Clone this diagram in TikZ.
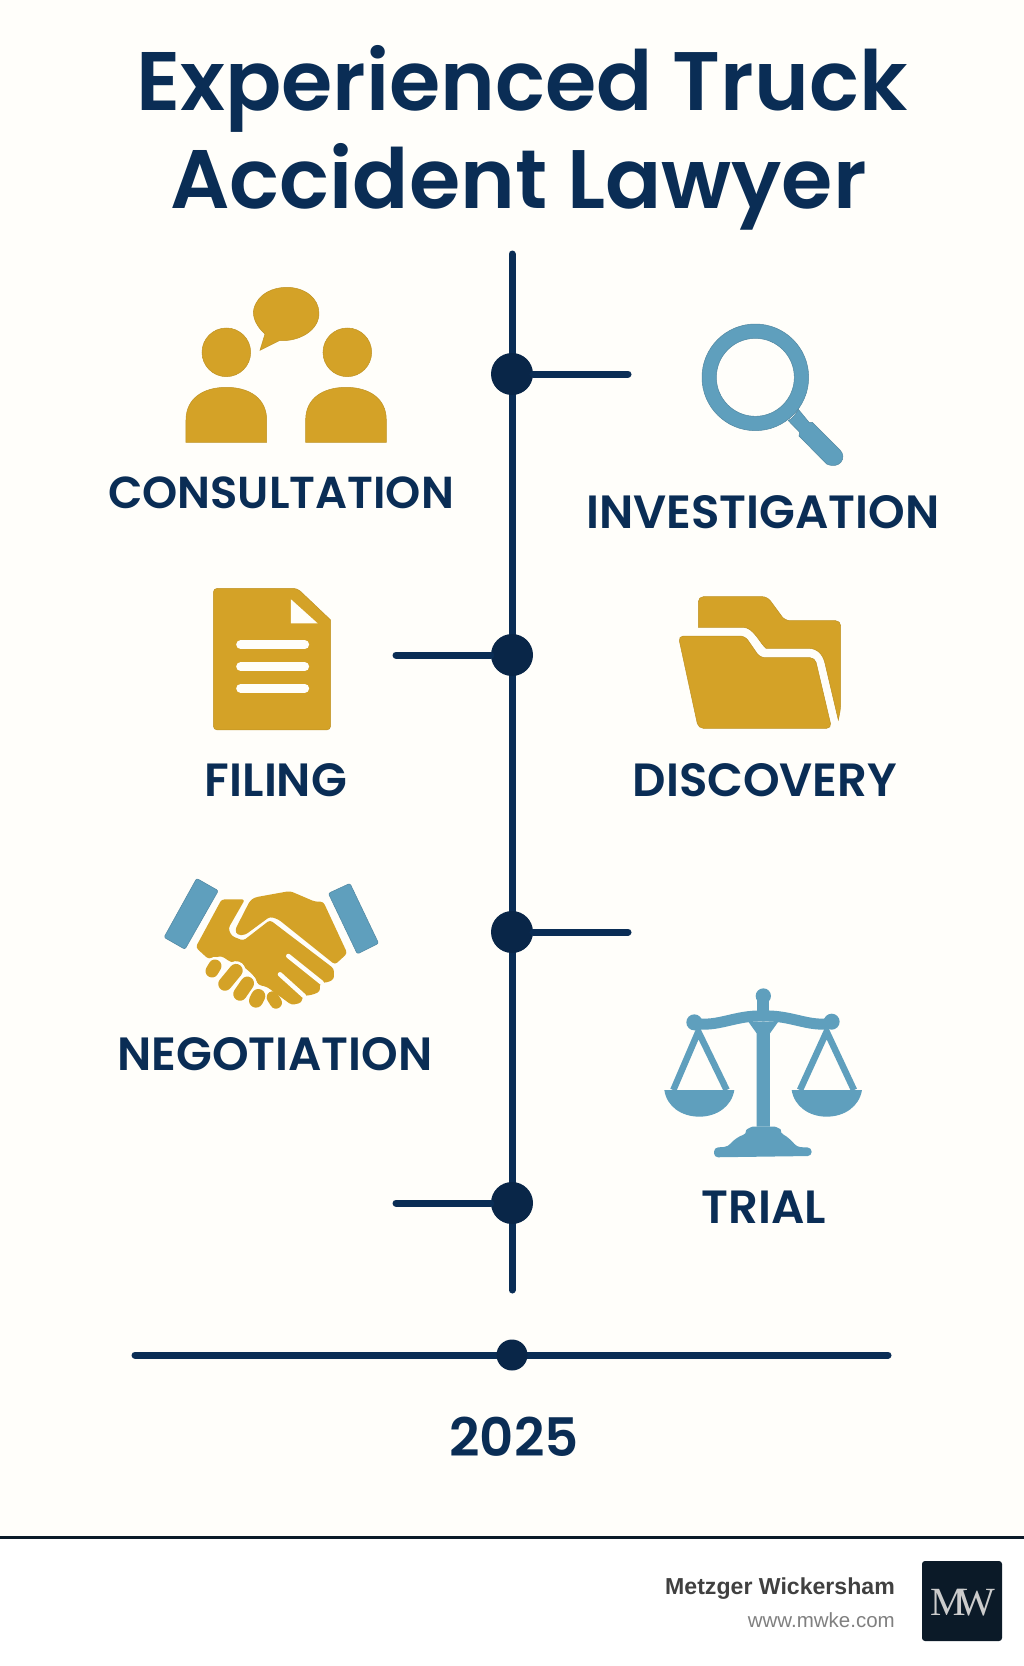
\documentclass[tikz,border=0pt]{standalone}
\usepackage{fontspec}
\setmainfont{Liberation Sans}
\newfontfamily\headfont{Poppins}[UprightFont=* SemiBold]
\newfontfamily\logofont{Liberation Serif}
\definecolor{lawnavy}{RGB}{10,45,85}
\definecolor{lawdot}{RGB}{9,38,72}
\definecolor{lawgold}{RGB}{212,162,39}
\definecolor{lawblue}{RGB}{95,159,189}
\definecolor{lawpaper}{RGB}{255,254,250}
\definecolor{lawlogo}{RGB}{11,26,40}
\usetikzlibrary{calc}
\usetikzlibrary{positioning}
\tikzset{
  stem/.style={draw=lawnavy,line width=7pt,line cap=round},
  stopdot/.style={circle,fill=lawdot,inner sep=0pt,minimum size=42pt},
  steplabel/.style={text=lawnavy,anchor=base,inner sep=0pt,font=\headfont\fontsize{46.6}{47}\selectfont},
  headline/.style={text=lawnavy,anchor=base,inner sep=0pt,font=\headfont\fontsize{83}{83}\selectfont},
  zoomed/.style={x=0.3333pt,y=-0.3333pt},
  goldshape/.style={fill=lawgold,draw=lawgold!90!black,line width=0.5pt},
  blueshape/.style={fill=lawblue,draw=lawblue!85!black,line width=0.5pt},
}
\begin{document}
\begin{tikzpicture}[x=1pt,y=-1pt]
  \useasboundingbox (0,0) rectangle (1024,1666);
  \fill [white] (0,0) rectangle (1024,1666);
  \fill [lawpaper] (0,0) rectangle (1024,1536);
  \fill [lawlogo] (0,1535.5) rectangle (1024,1538.5);

  \node [headline] (title1) at (522,110) {Experienced Truck};
  \node [headline] (title2) at (518.5,208) {Accident Lawyer};

  % Timeline:

  \coordinate (axistop) at (512,254);
  \coordinate (axisend) at (512,1290);
  \draw [stem] (axistop) -- (axisend);

  \node [stopdot] (stopa) at (512,374) {};
  \node [stopdot] (stopb) at (512,655) {};
  \node [stopdot] (stopc) at (512,932) {};
  \node [stopdot] (stopd) at (512,1203) {};
  \coordinate (enda) at (628,374);
  \coordinate (endb) at (396,655);
  \coordinate (endc) at (628,932);
  \coordinate (endd) at (396,1203);
  \draw [stem] (stopa) -- (enda);
  \draw [stem] (stopb) -- (endb);
  \draw [stem] (stopc) -- (endc);
  \draw [stem] (stopd) -- (endd);

  \coordinate (yearleft) at (135,1355);
  \coordinate (yearright) at (888,1355);
  \draw [stem] (yearleft) -- (yearright);
  \node [stopdot,minimum size=31pt] (yeardot) at (512,1355) {};
  \node [steplabel,font=\headfont\fontsize{53}{53}\selectfont] (year) at (514,1456) {2025};

  \node [steplabel,font=\headfont\fontsize{44.8}{45}\selectfont] (consultation) at (281,508) {CONSULTATION};
  \node [steplabel] (investigation) at (763,528) {INVESTIGATION};
  \node [steplabel] (filing) at (276,796) {FILING};
  \node [steplabel] (discovery) at (765,796) {DISCOVERY};
  \node [steplabel] (negotiation) at (275,1070) {NEGOTIATION};
  \node [steplabel] (trial) at (764,1223) {TRIAL};

  % Consultation icon:

  \begin{scope}[shift={(140,260)},zoomed]
    \draw [goldshape] (259,277) circle [radius=73];
    \draw [goldshape] (622,277) circle [radius=73];
    \foreach \i in {0,359} {
      \draw [goldshape] (138+\i,547) -- (138+\i,480) .. controls (138+\i,415) and (190+\i,382) .. (259+\i,382)
        .. controls (328+\i,382) and (380+\i,415) .. (380+\i,480) -- (380+\i,547) -- cycle;
    }
    \draw [goldshape] (360,271) -- (375,222) .. controls (350,200) and (335,170) .. (342,145)
      .. controls (355,100) and (400,82) .. (440,82) .. controls (495,82) and (537,115) .. (537,160)
      .. controls (537,210) and (480,245) .. (418,242) -- cycle;
  \end{scope}

  % Investigation icon:

  \begin{scope}[shift={(640,300)},zoomed]
    \draw [blueshape,even odd rule] (346,232) circle [radius=160] (346,232) circle [radius=117];
    \draw [blueshape] (475,328) -- (508,368) -- (517,367) -- (600,450)
      .. controls (622,472) and (600,510) .. (560,492) -- (477,408) -- (479,397) -- (445,362)
      .. controls (458,355) and (468,342) .. (475,328) -- cycle;
  \end{scope}

  % Filing icon:

  \begin{scope}[shift={(190,570)},zoomed]
    \draw [goldshape,rounded corners=4pt] (70,55) -- (322,55) [sharp corners] -- (422,150) [rounded corners=4pt] -- (422,480) -- (70,480) -- cycle;
    \fill [lawpaper] (303,88) -- (303,160) -- (383,160) -- cycle;
    \foreach \i in {224,290,355} {
      \draw [lawpaper,line width=9pt,line cap=round] (152,\i) -- (344,\i);
    }
  \end{scope}

  % Discovery icon:

  \begin{scope}[shift={(660,580)},zoomed]
    \draw [goldshape,rounded corners=5pt] (115,142) -- (115,50) -- (322,50) -- (375,122) -- (542,122) -- (542,385)
      [sharp corners] -- (535,420) -- (495,250) .. controls (488,220) and (470,205) .. (445,205) -- (318,205)
      .. controls (300,190) and (280,142) .. (250,142) -- cycle;
    \draw [goldshape,rounded corners=5pt] (55,168) -- (255,168) -- (300,233) -- (465,233) -- (515,445) -- (115,445) -- cycle;
  \end{scope}

  % Negotiation icon:

  \begin{scope}[shift={(150,860)},zoomed]
    \draw [blueshape,rounded corners=2pt] (140,55) -- (205,92) -- (105,268) -- (42,232) -- cycle;
    \draw [blueshape,rounded corners=2pt] (535,100) -- (600,70) -- (686,250) -- (622,282) -- cycle;
    \fill [lawgold,rounded corners=3pt] (215,118) -- (285,118) -- (235,205) -- (245,228) -- (280,242)
      -- (360,180) -- (552,326) -- (552,358) -- (530,368) -- (510,368) -- (510,395) -- (485,405)
      -- (458,408) -- (455,428) -- (425,435) -- (350,380) -- (325,375) -- (310,345) -- (275,315)
      -- (240,305) -- (215,288) -- (175,297) -- (137,262) -- cycle;
    \fill [lawgold,rounded corners=3pt] (300,122) -- (315,112) -- (420,93) -- (495,125) -- (520,125) -- (592,280)
      -- (555,314) -- (385,178) -- (360,170) -- (285,225) -- (262,225) -- (255,210) -- cycle;
    \draw [lawpaper,line width=4.5pt,line cap=round] (415,288) -- (515,368);
    \draw [lawpaper,line width=4.5pt,line cap=round] (390,343) -- (462,408);
    \draw [lawpaper,line width=19pt,line cap=round] (225,372) -- (258,332);
    \draw [lawpaper,line width=19pt,line cap=round] (270,402) -- (292,370);
    \draw [lawpaper,line width=19pt,line cap=round] (318,422) -- (325,408);
    \draw [lawpaper,line width=18pt,line cap=round] (186,333) -- (195,318);
    \draw [lawgold,line width=13pt,line cap=round] (186,333) -- (195,318);
    \draw [lawgold,line width=13.5pt,line cap=round] (225,372) -- (258,332);
    \draw [lawgold,line width=13.5pt,line cap=round] (270,402) -- (292,370);
    \draw [lawgold,line width=14pt,line cap=round] (318,422) -- (325,408);
    \draw [lawgold,line width=12pt,line cap=round] (368,412) -- (378,428);
  \end{scope}

  % Trial icon:

  \begin{scope}[shift={(650,970)},zoomed]
    \fill [lawblue] (320,470) -- (320,190) -- (295,155) -- (385,155) -- (360,190) -- (360,470) -- cycle;
    \fill [lawblue] (340,78) circle [radius=23];
    \fill [lawblue] (322,90) rectangle (358,135);
    \draw [lawblue,line width=11pt] (135,160) .. controls (205,172) and (255,135) .. (340,138)
      .. controls (425,135) and (475,172) .. (545,160);
    \fill [lawblue] (133,157) circle [radius=24] (545,155) circle [radius=24];
    \draw [lawblue,line width=6.5pt] (70,360) -- (145,185) -- (230,360);
    \draw [lawblue,line width=6.5pt] (450,360) -- (530,185) -- (612,360);
    \fill [lawblue] (43,360) -- (253,360) .. controls (245,410) and (200,440) .. (148,440) .. controls (95,440) and (50,410) .. (43,360) -- cycle;
    \fill [lawblue] (425,360) -- (636,360) .. controls (628,410) and (583,440) .. (530,440) .. controls (478,440) and (433,410) .. (425,360) -- cycle;
    \fill [lawblue,rounded corners=4pt] (192,533) -- (235,530) .. controls (250,510) and (270,497) .. (290,493)
      .. controls (288,478) and (305,470) .. (320,470) -- (362,470) .. controls (378,470) and (392,478) .. (390,490)
      .. controls (410,498) and (428,515) .. (440,531) -- (485,533) -- (485,558) -- (192,562) -- cycle;
  \end{scope}

  % Footer:

  \node [anchor=base east,inner sep=0pt,text=black!75,font=\bfseries\fontsize{23.1}{24}\selectfont] (firm) at (895,1594) {Metzger Wickersham};
  \node [anchor=base east,inner sep=0pt,text=black!50,font=\fontsize{20.5}{21}\selectfont] (site) at (895,1627) {www.mwke.com};
  \node [fill=lawlogo,rounded corners=3pt,minimum size=80pt,inner sep=0pt] (logo) at (962,1601) {};
  \node [text=white!80!black,anchor=base,inner sep=0pt,font=\logofont\fontsize{40}{40}\selectfont] (logotext) at (963,1615) {M\kern-9pt W};
\end{tikzpicture}
\end{document}
